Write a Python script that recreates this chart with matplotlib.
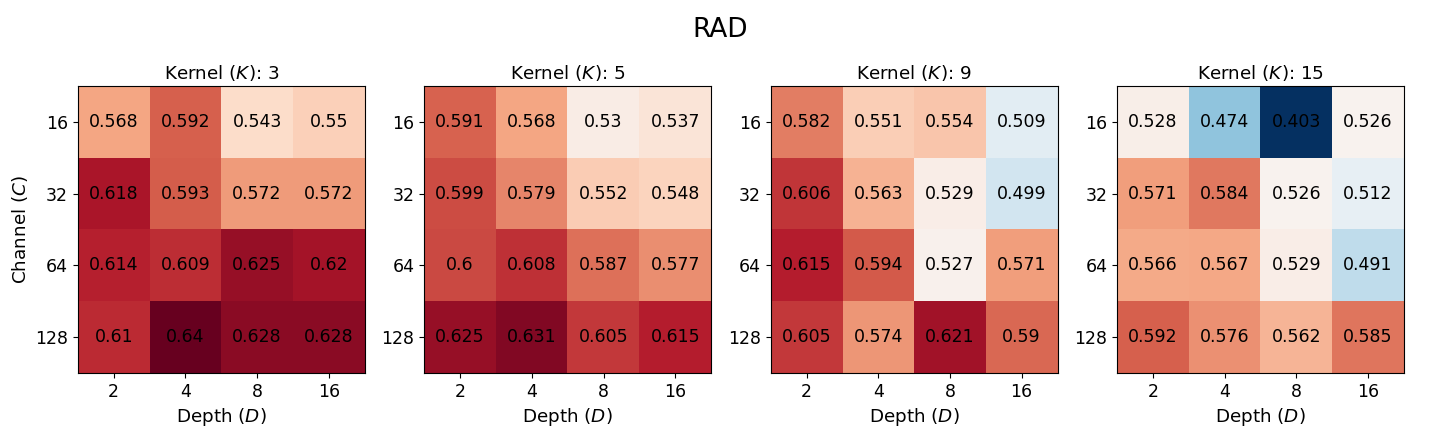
import numpy as np
import matplotlib
matplotlib.use("Agg")
import matplotlib.pyplot as plt

depths = [2, 4, 8, 16]
channels = [16, 32, 64, 128]
kernels = [3, 5, 9, 15]

k3 = [[0.568, 0.592, 0.543, 0.55],
      [0.618, 0.593, 0.572, 0.572],
      [0.614, 0.609, 0.625, 0.62],
      [0.61, 0.64, 0.628, 0.628]]
k5 = [[0.591, 0.568, 0.53, 0.537],
      [0.599, 0.579, 0.552, 0.548],
      [0.6, 0.608, 0.587, 0.577],
      [0.625, 0.631, 0.605, 0.615]]
k9 = [[0.582, 0.551, 0.554, 0.509],
      [0.606, 0.563, 0.529, 0.499],
      [0.615, 0.594, 0.527, 0.571],
      [0.605, 0.574, 0.621, 0.59]]
k15 = [[0.528, 0.474, 0.403, 0.526],
       [0.571, 0.584, 0.526, 0.512],
       [0.566, 0.567, 0.529, 0.491],
       [0.592, 0.576, 0.562, 0.585]]

grids = [k3, k5, k9, k15]
vmin = min(np.min(g) for g in grids)
vmax = max(np.max(g) for g in grids)

fig, axes = plt.subplots(1, 4, figsize=(14.4, 4.32), dpi=100)
fig.subplots_adjust(left=0.054, right=0.975, bottom=0.137, top=0.801, wspace=0.207)

for i, (ax, k, g) in enumerate(zip(axes, kernels, grids)):
    g = np.array(g)
    ax.imshow(g, cmap="RdBu_r", vmin=vmin, vmax=vmax)
    for r in range(len(channels)):
        for c in range(len(depths)):
            ax.text(c, r, f"{g[r, c]:g}", ha="center", va="center",
                    fontsize=12.5, color="black")
    ax.set_xticks(range(len(depths)))
    ax.set_xticklabels(depths, fontsize=12.5)
    ax.set_yticks(range(len(channels)))
    ax.set_yticklabels(channels, fontsize=12.5)
    ax.set_xlabel("Depth ($D$)", fontsize=13.2)
    ax.set_title(f"Kernel ($K$): {k}", fontsize=13.2, pad=5)
    if i == 0:
        ax.set_ylabel("Channel ($C$)", fontsize=13.2)

fig.suptitle("RAD", fontsize=19, y=0.96)
fig.savefig("out.png", dpi=100)
